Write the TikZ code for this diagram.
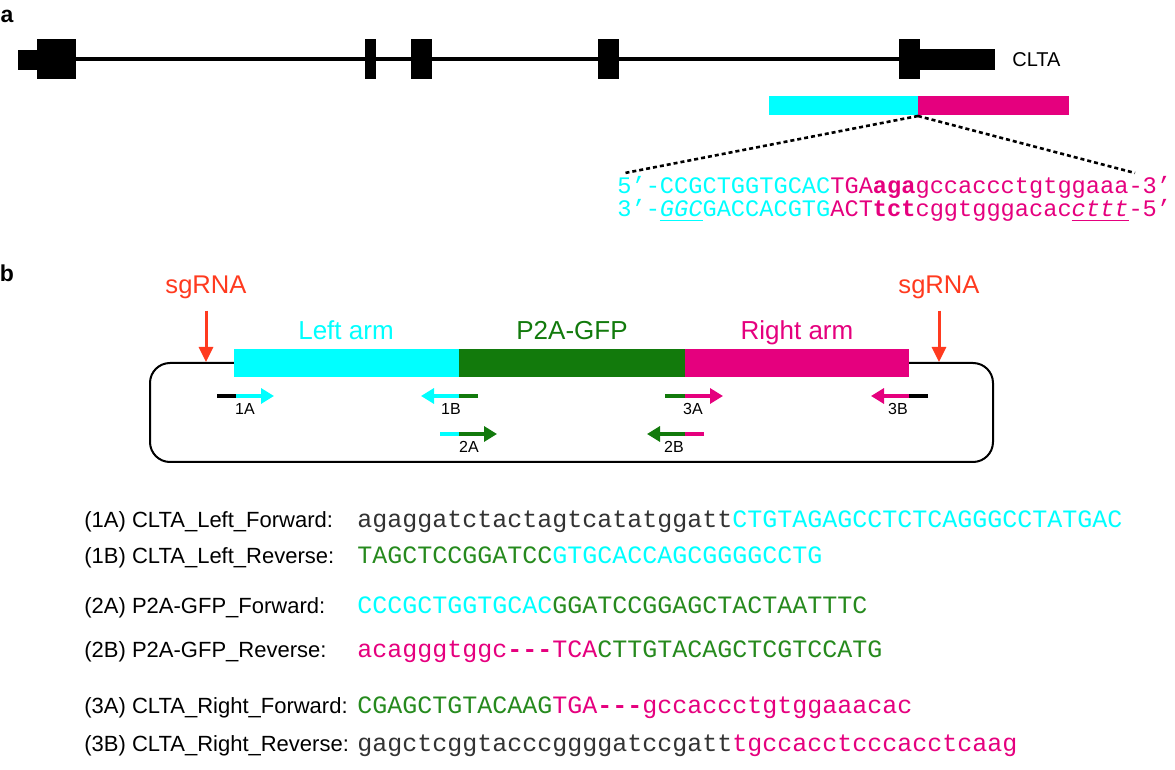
\documentclass[tikz,border=0pt]{standalone}
\usepackage{fontspec}
\setmainfont{Liberation Sans}
\newfontfamily\seqfont{Liberation Mono}
\usetikzlibrary{arrows.meta}

\definecolor{armcyan}{HTML}{00FFFF}
\definecolor{armgreen}{HTML}{127A0C}
\definecolor{armpink}{HTML}{E5007E}
\definecolor{sgred}{HTML}{FF3A1F}
\definecolor{seqgreen}{HTML}{268A1E}
\definecolor{seqgray}{HTML}{333333}

\newcommand{\incyan}[1]{\textcolor{armcyan}{#1}}
\newcommand{\ingreen}[1]{\textcolor{seqgreen}{#1}}
\newcommand{\inpink}[1]{\textcolor{armpink}{#1}}
\newcommand{\ingray}[1]{\textcolor{seqgray}{#1}}

\begin{document}
\begin{tikzpicture}
    [ x=0.5pt, y=-0.5pt,
      panel/.style={font=\fontsize{11.5}{14}\selectfont\bfseries, inner sep=0pt},
      genelab/.style={font=\fontsize{10}{12}\selectfont, inner sep=0pt, anchor=west},
      seqa/.style={font=\fontsize{11.83}{14}\seqfont, inner sep=0pt, anchor=base west},
      seqb/.style={font=\fontsize{12.5}{15}\seqfont, inner sep=0pt, anchor=base west},
      rowlab/.style={font=\fontsize{11}{13}\selectfont, inner sep=0pt, anchor=base west},
      armlab/.style={font=\fontsize{13}{15}\selectfont, inner sep=0pt, anchor=base},
      sgrna/.style={font=\fontsize{12.8}{15}\selectfont, text=sgred, inner sep=0pt, anchor=base},
      sgarrow/.style={draw=sgred, line width=1.5pt, -{Triangle[length=7.5pt,width=7pt]}},
      primer/.style={line width=2pt},
      primerhead/.style={line width=2pt, -{Triangle[length=6.5pt,width=7.5pt]}},
      plab/.style={font=\fontsize{8}{10}\selectfont, inner sep=0pt, anchor=base},
      zoomline/.style={line width=1.3pt, dash pattern=on 2pt off 1.5pt} ]

    \useasboundingbox (0,0) rectangle (1175,770);

    % panel a: gene
    \node[panel] (pa) at (7,16) {a};
    \draw[line width=2pt] (18,59.5) -- (995,59.5);
    \fill (18,50) rectangle (37,70);
    \foreach \xa/\xb in {37/76,365/376,411/432,598/619,899/920}
        \fill (\xa,39) rectangle (\xb,79);
    \fill (920,49) rectangle (995,70);
    \node[genelab] (gene) at (1012,60) {CLTA};

    \fill[armcyan] (769,96) rectangle (918,115);
    \fill[armpink] (918,96) rectangle (1069,115);

    \node[seqa] (seqtop) at (617,194) {\incyan{5’-CCGCTGGTGCAC}\inpink{TGA\textbf{aga}gccaccctgtggaaa-3’}};
    \node[seqa] (seqbot) at (617,217) {\incyan{3’-\underline{\textit{GGC}}GACCACGTG}\inpink{ACT\textbf{tct}cggtgggacac\underline{\textit{cttt}}-5’}};

    \coordinate (junc) at (918,116);
    \coordinate (dotl) at (625,173);
    \coordinate (dotr) at (1135,173);
    \draw[zoomline] (junc) -- (dotl);
    \draw[zoomline] (junc) -- (dotr);

    % panel b: donor plasmid
    \node[panel] (pb) at (7,273) {b};
    \draw[line width=1pt, rounded corners=10pt] (150,363) rectangle (993,462);
    \fill[armcyan] (234,349) rectangle (459,377);
    \fill[armgreen] (459,349) rectangle (685,377);
    \fill[armpink] (685,349) rectangle (909,377);
    \node[armlab, text=armcyan] (larm) at (346,340) {Left arm};
    \node[armlab, text=armgreen] (p2a) at (572,340) {P2A-GFP};
    \node[armlab, text=armpink] (rarm) at (797,340) {Right arm};

    \node[sgrna] (sg1) at (206,294) {sgRNA};
    \node[sgrna] (sg2) at (939,294) {sgRNA};
    \coordinate (cut1) at (206,362);
    \coordinate (cut2) at (939,362);
    \draw[sgarrow] (sg1.south)++(0,11) -- (cut1);
    \draw[sgarrow] (sg2.south)++(0,11) -- (cut2);

    % primers
    \coordinate (a1) at (217,396); \coordinate (a2) at (236,396); \coordinate (a3) at (274,396);
    \draw[primer] (a1) -- (a2);
    \draw[primerhead, armcyan] (a2) -- (a3);
    \node[plab] (l1a) at (245,415) {1A};

    \coordinate (b1) at (478,396); \coordinate (b2) at (459,396); \coordinate (b3) at (421,396);
    \draw[primer, armgreen] (b1) -- (b2);
    \draw[primerhead, armcyan] (b2) -- (b3);
    \node[plab] (l1b) at (451,415) {1B};

    \coordinate (c1) at (440,434); \coordinate (c2) at (459,434); \coordinate (c3) at (497,434);
    \draw[primer, armcyan] (c1) -- (c2);
    \draw[primerhead, armgreen] (c2) -- (c3);
    \node[plab] (l2a) at (469,453) {2A};

    \coordinate (d1) at (704,434); \coordinate (d2) at (685,434); \coordinate (d3) at (647,434);
    \draw[primer, armpink] (d1) -- (d2);
    \draw[primerhead, armgreen] (d2) -- (d3);
    \node[plab] (l2b) at (674,453) {2B};

    \coordinate (e1) at (665,396); \coordinate (e2) at (685,396); \coordinate (e3) at (723,396);
    \draw[primer, armgreen] (e1) -- (e2);
    \draw[primerhead, armpink] (e2) -- (e3);
    \node[plab] (l3a) at (693,415) {3A};

    \coordinate (f1) at (928,396); \coordinate (f2) at (909,396); \coordinate (f3) at (871,396);
    \draw[primer] (f1) -- (f2);
    \draw[primerhead, armpink] (f2) -- (f3);
    \node[plab] (l3b) at (898,415) {3B};

    % primer sequences
    \node[rowlab] (r1a) at (84,528) {(1A) CLTA\_Left\_Forward:};
    \node[seqb] (s1a) at (357,528) {\ingray{agaggatctactagtcatatggatt}\incyan{CTGTAGAGCCTCTCAGGGCCTATGAC}};
    \node[rowlab] (r1b) at (84,564) {(1B) CLTA\_Left\_Reverse:};
    \node[seqb] (s1b) at (357,564) {\ingreen{TAGCTCCGGATCC}\incyan{GTGCACCAGCGGGGCCTG}};
    \node[rowlab] (r2a) at (84,614) {(2A) P2A-GFP\_Forward:};
    \node[seqb] (s2a) at (357,614) {\incyan{CCCGCTGGTGCAC}\ingreen{GGATCCGGAGCTACTAATTTC}};
    \node[rowlab] (r2b) at (84,658) {(2B) P2A-GFP\_Reverse:};
    \node[seqb] (s2b) at (357,658) {\inpink{acagggtggc\textbf{-{}-{}-}TCA}\ingreen{CTTGTACAGCTCGTCCATG}};
    \node[rowlab] (r3a) at (84,714) {(3A) CLTA\_Right\_Forward:};
    \node[seqb] (s3a) at (357,714) {\ingreen{CGAGCTGTACAAG}\inpink{TGA\textbf{-{}-{}-}gccaccctgtggaaacac}};
    \node[rowlab] (r3b) at (84,752) {(3B) CLTA\_Right\_Reverse:};
    \node[seqb] (s3b) at (357,752) {\ingray{gagctcggtacccggggatccgatt}\inpink{tgccacctcccacctcaag}};
\end{tikzpicture}
\end{document}
